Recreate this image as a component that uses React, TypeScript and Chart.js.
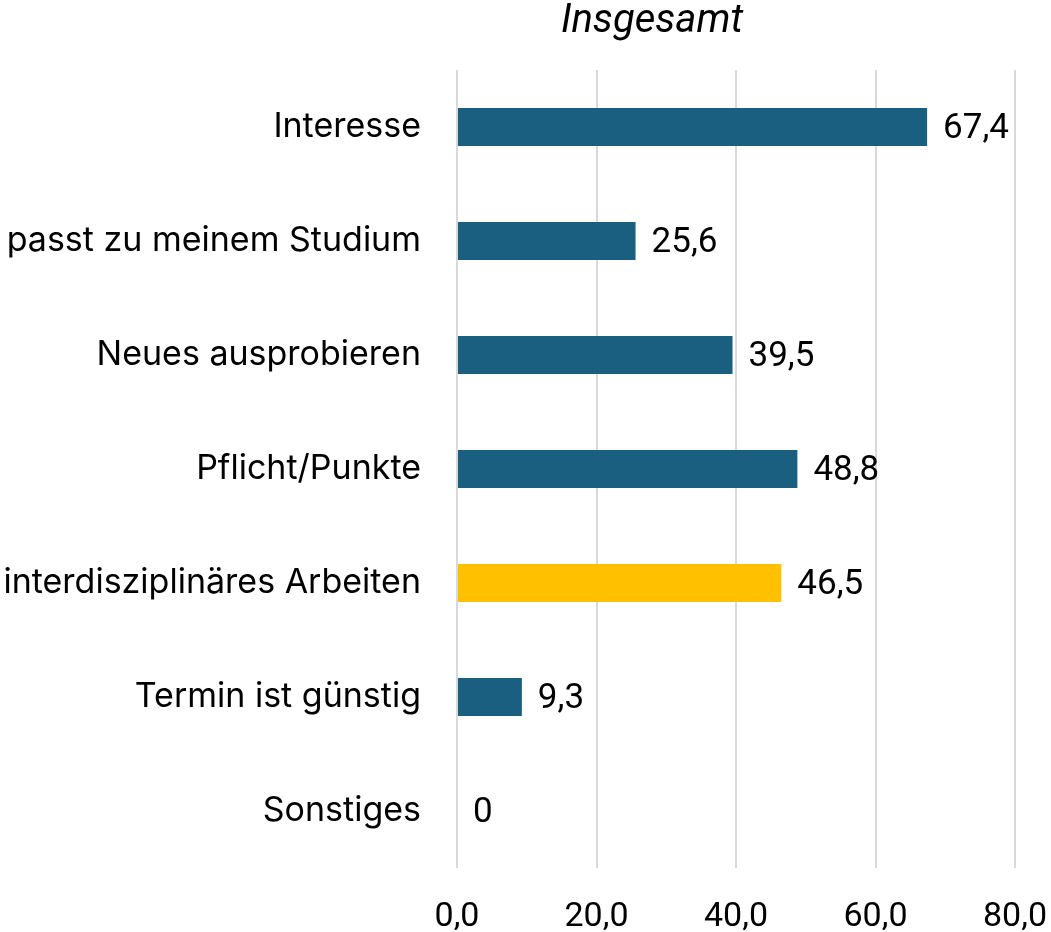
import React, { useEffect, useRef } from "react";
import { Chart, registerables } from "chart.js";

Chart.register(...registerables);

const categories = [
  "Interesse",
  "passt zu meinem Studium",
  "Neues ausprobieren",
  "Pflicht/Punkte",
  "interdisziplinäres Arbeiten",
  "Termin ist günstig",
  "Sonstiges",
];
const values = [67.4, 25.6, 39.5, 48.8, 46.5, 9.3, 0];
const valueLabels = ["67,4", "25,6", "39,5", "48,8", "46,5", "9,3", "0"];
const barColors = ["#1A5F80", "#1A5F80", "#1A5F80", "#1A5F80", "#FFC000", "#1A5F80", "#1A5F80"];
const xTicks = [0, 20, 40, 60, 80];
const title = "Insgesamt";

const narrow = "'Liberation Sans Narrow', 'Roboto', sans-serif";
const labelFont = "Inter, 'Noto Sans', sans-serif";

export default function App() {
  const ref = useRef<HTMLCanvasElement>(null);
  useEffect(() => {
    if (!ref.current) return;
    const valuePlugin = {
      id: "vals",
      afterDatasetsDraw(chart: any) {
        const ctx = chart.ctx;
        const meta = chart.getDatasetMeta(0);
        ctx.save();
        ctx.font = `35px ${narrow}`;
        ctx.fillStyle = "#000";
        ctx.textAlign = "left";
        ctx.textBaseline = "middle";
        meta.data.forEach((bar: any, i: number) => {
          ctx.fillText(valueLabels[i], bar.x + 16, bar.y + 2);
        });
        ctx.font = `italic 40px ${narrow}`;
        ctx.textAlign = "center";
        ctx.fillText(title, 652, 22);
        ctx.restore();
      },
    };
    const chart = new Chart(ref.current, {
      type: "bar",
      data: {
        labels: categories,
        datasets: [
          {
            data: values,
            backgroundColor: barColors,
            barPercentage: 0.667,
            categoryPercentage: 0.5,
          },
        ],
      },
      options: {
        indexAxis: "y",
        animation: false,
        responsive: false,
        layout: { padding: { top: 70, right: 36, left: 0, bottom: 0 } },
        plugins: { legend: { display: false }, tooltip: { enabled: false }, title: { display: false } },
        scales: {
          x: {
            min: 0,
            max: 80,
            afterBuildTicks(axis: any) {
              axis.ticks = xTicks.map((v) => ({ value: v }));
            },
            afterFit(axis: any) {
              axis.height = 64;
              axis.paddingLeft = 0;
              axis.paddingRight = 0;
            },
            grid: { color: "#D9D9D9", lineWidth: 2, drawTicks: false },
            border: { display: false },
            ticks: {
              padding: 29,
              color: "#000",
              font: { size: 34, family: narrow },
              callback: (v: any) => Number(v).toFixed(1).replace(".", ","),
            },
          },
          y: {
            afterFit(axis: any) {
              axis.width = 457;
              axis.paddingTop = 0;
              axis.paddingBottom = 0;
            },
            grid: { display: false, drawTicks: false },
            border: { display: false },
            ticks: {
              padding: 36,
              color: "#000",
              font: { size: 34, family: labelFont },
            },
          },
        },
      },
      plugins: [valuePlugin],
    });
    return () => chart.destroy();
  }, []);
  return (
    <div style={{ position: "fixed", left: 0, top: 0, width: 1051, height: 932, background: "#fff" }}>
      <canvas ref={ref} width={1051} height={932} />
    </div>
  );
}
